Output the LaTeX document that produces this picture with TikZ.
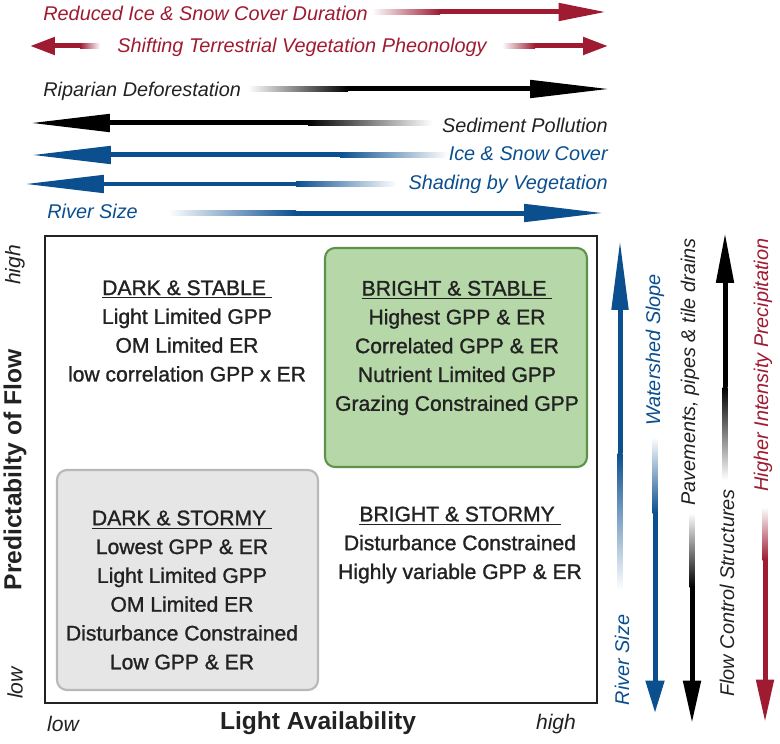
\documentclass[tikz,border=0pt]{standalone}
\usepackage{fontspec}
\setmainfont{Liberation Sans}
\newfontfamily\medfont{Liberation Sans}[FakeBold=1.2]
\usepackage{xcolor}
\usetikzlibrary{positioning,calc,arrows.meta,backgrounds}

\begin{document}
\begin{tikzpicture}[
    x=0.02cm,y=-0.02cm,
    every node/.style={inner sep=0pt},
    trend/.style={font=\itshape\fontsize{11.3}{13}\selectfont},
    quad/.style={align=center,font=\medfont\fontsize{12}{16.4}\selectfont,text=ink},
    axis/.style={font=\bfseries\fontsize{14}{16}\selectfont,text=ink},
    tick/.style={font=\itshape\fontsize{12}{14}\selectfont,text=ink},
    shaft/.style={line width=0.1cm},
    longhead/.style={shaft,-{Triangle[length=1.6cm,width=0.34cm]}},
    midhead/.style={shaft,-{Triangle[length=0.95cm,width=0.34cm]}},
    shorthead/.style={shaft,-{Triangle[length=0.5cm,width=0.34cm]}}
  ]

  \definecolor{cred}{HTML}{9E1B32}
  \definecolor{cblue}{HTML}{0B4F8F}
  \definecolor{ink}{HTML}{222222}
  \definecolor{gfill}{HTML}{B6D7A8}
  \definecolor{gdraw}{HTML}{5E9248}
  \definecolor{sfill}{HTML}{E6E6E6}
  \definecolor{sdraw}{HTML}{B8B8B8}

  \path[fill=white,use as bounding box] (0,0) rectangle (780,743);

  % top trends
  \node[trend,text=cred,anchor=west] (ice-dur) at (43,13) {Reduced Ice \& Snow Cover Duration};
  \coordinate (ice-dur-fade) at (372,12);
  \coordinate (ice-dur-full) at (440,12);
  \coordinate (ice-dur-tip)  at (606,12);
  \shade[left color=white,right color=cred] ($(ice-dur-fade)+(0,-2.5)$) rectangle ($(ice-dur-full)+(0,2.5)$);
  \draw[midhead,cred] (ice-dur-full) -- (ice-dur-tip);

  \node[trend,text=cred] (pheno) at (302,47) {Shifting Terrestrial Vegetation Pheonology};
  \coordinate (pheno-lfade) at (100,46);
  \coordinate (pheno-lfull) at (80,46);
  \coordinate (pheno-ltip)  at (30,46);
  \coordinate (pheno-rfade) at (502,46);
  \coordinate (pheno-rfull) at (535,46);
  \coordinate (pheno-rtip)  at (608,46);
  \shade[left color=cred,right color=white] ($(pheno-lfull)+(0,-2.5)$) rectangle ($(pheno-lfade)+(0,2.5)$);
  \draw[shorthead,cred] (pheno-lfull) -- (pheno-ltip);
  \shade[left color=white,right color=cred] ($(pheno-rfade)+(0,-2.5)$) rectangle ($(pheno-rfull)+(0,2.5)$);
  \draw[shorthead,cred] (pheno-rfull) -- (pheno-rtip);

  \node[trend,text=ink,anchor=west] (ripar) at (43,91) {Riparian Deforestation};
  \coordinate (ripar-fade) at (248,89);
  \coordinate (ripar-full) at (348,89);
  \coordinate (ripar-tip)  at (610,89);
  \shade[left color=white,right color=black] ($(ripar-fade)+(0,-2.5)$) rectangle ($(ripar-full)+(0,2.5)$);
  \draw[longhead,black] (ripar-full) -- (ripar-tip);

  \node[trend,text=ink,anchor=east] (sedim) at (608,125) {Sediment Pollution};
  \coordinate (sedim-fade) at (432,123);
  \coordinate (sedim-full) at (308,123);
  \coordinate (sedim-tip)  at (30,123);
  \shade[left color=black,right color=white] ($(sedim-full)+(0,-2.5)$) rectangle ($(sedim-fade)+(0,2.5)$);
  \draw[longhead,black] (sedim-full) -- (sedim-tip);

  \node[trend,text=cblue,anchor=east] (snow) at (608,154) {Ice \& Snow Cover};
  \coordinate (snow-fade) at (448,155);
  \coordinate (snow-full) at (340,155);
  \coordinate (snow-tip)  at (31,155);
  \shade[left color=cblue,right color=white] ($(snow-full)+(0,-2.5)$) rectangle ($(snow-fade)+(0,2.5)$);
  \draw[longhead,cblue] (snow-full) -- (snow-tip);

  \node[trend,text=cblue,anchor=east] (shade) at (608,184) {Shading by Vegetation};
  \coordinate (shade-fade) at (396,184);
  \coordinate (shade-full) at (296,184);
  \coordinate (shade-tip)  at (24,184);
  \shade[left color=cblue,right color=white] ($(shade-full)+(0,-2.5)$) rectangle ($(shade-fade)+(0,2.5)$);
  \draw[longhead,cblue] (shade-full) -- (shade-tip);

  \node[trend,text=cblue,anchor=west] (rsize) at (47,211) {River Size};
  \coordinate (rsize-fade) at (168,213);
  \coordinate (rsize-full) at (296,213);
  \coordinate (rsize-tip)  at (604,213);
  \shade[left color=white,right color=cblue] ($(rsize-fade)+(0,-2.5)$) rectangle ($(rsize-full)+(0,2.5)$);
  \draw[longhead,cblue] (rsize-full) -- (rsize-tip);

  % quadrants
  \draw[line width=1.2pt,ink] (45,236) rectangle (597,703);
  \draw[gdraw,fill=gfill,line width=1.2pt,rounded corners=0.2cm] (325,248) rectangle (587,467);
  \draw[sdraw,fill=sfill,line width=1.2pt,rounded corners=0.2cm] (57,470) rectangle (318,690);

  \node[quad] (dark-stable) at (187,331) {\underline{DARK \& STABLE\ }\\Light Limited GPP\\OM Limited ER\\low correlation GPP x ER};
  \node[quad] (bright-stable) at (457,348) {\underline{BRIGHT \& STABLE\ }\\Highest GPP \& ER\\Correlated GPP \& ER\\Nutrient Limited GPP\\Grazing Constrained GPP};
  \node[quad] (dark-stormy) at (182,590) {\underline{DARK \& STORMY\ }\\Lowest GPP \& ER\\Light Limited GPP\\OM Limited ER\\Disturbance Constrained\\Low GPP \& ER};
  \node[quad] (bright-stormy) at (460,545) {\underline{BRIGHT \& STORMY\ }\\Disturbance Constrained\\Highly variable GPP \& ER};

  % axes
  \node[tick] (x-low)  at (63,724)  {low};
  \node[axis] (x-lab)  at (318,723) {Light Availability};
  \node[tick] (x-high) at (556,724) {high};
  \node[tick,rotate=90] (y-high) at (15,265) {high};
  \node[axis,rotate=90] (y-lab)  at (15,470) {Predictabilty of Flow};
  \node[tick,rotate=90] (y-low)  at (15,683) {low};

  % flow drivers
  \node[trend,text=cblue,rotate=90] (slope) at (655,350) {Watershed Slope};
  \coordinate (slope-fade) at (620,590);
  \coordinate (slope-full) at (620,453);
  \coordinate (slope-tip)  at (620,240);
  \shade[top color=cblue,bottom color=white] ($(slope-full)+(-2.5,0)$) rectangle ($(slope-fade)+(2.5,0)$);
  \draw[shaft,cblue,-{Triangle[length=1.4cm,width=0.32cm]}] (slope-full) -- (slope-tip);

  \node[trend,text=cblue,rotate=90] (vsize) at (622,660) {River Size};
  \coordinate (vsize-fade) at (655,437);
  \coordinate (vsize-full) at (655,513);
  \coordinate (vsize-tip)  at (655,713);
  \shade[top color=white,bottom color=cblue] ($(vsize-fade)+(-2.5,0)$) rectangle ($(vsize-full)+(2.5,0)$);
  \draw[shaft,cblue,-{Triangle[length=0.65cm,width=0.36cm]}] (vsize-full) -- (vsize-tip);

  \node[trend,text=ink,rotate=90] (pave) at (690,372) {Pavements, pipes \& tile drains};
  \coordinate (pave-fade) at (692,513);
  \coordinate (pave-full) at (692,587);
  \coordinate (pave-tip)  at (692,723);
  \shade[top color=white,bottom color=black] ($(pave-fade)+(-2.5,0)$) rectangle ($(pave-full)+(2.5,0)$);
  \draw[shaft,black,-{Triangle[length=0.85cm,width=0.34cm]}] (pave-full) -- (pave-tip);

  \node[trend,text=ink,rotate=90] (ctrl) at (727,593) {Flow Control Structures};
  \coordinate (ctrl-fade) at (725,480);
  \coordinate (ctrl-full) at (725,387);
  \coordinate (ctrl-tip)  at (725,233);
  \shade[top color=black,bottom color=white] ($(ctrl-full)+(-2.5,0)$) rectangle ($(ctrl-fade)+(2.5,0)$);
  \draw[shaft,black,-{Triangle[length=1cm,width=0.34cm]}] (ctrl-full) -- (ctrl-tip);

  \node[trend,text=cred,rotate=90] (precip) at (763,365) {Higher Intensity Precipitation};
  \coordinate (precip-fade) at (765,507);
  \coordinate (precip-full) at (765,560);
  \coordinate (precip-tip)  at (765,722);
  \shade[top color=white,bottom color=cred] ($(precip-fade)+(-2.5,0)$) rectangle ($(precip-full)+(2.5,0)$);
  \draw[shaft,cred,-{Triangle[length=0.85cm,width=0.34cm]}] (precip-full) -- (precip-tip);
\end{tikzpicture}
\end{document}
